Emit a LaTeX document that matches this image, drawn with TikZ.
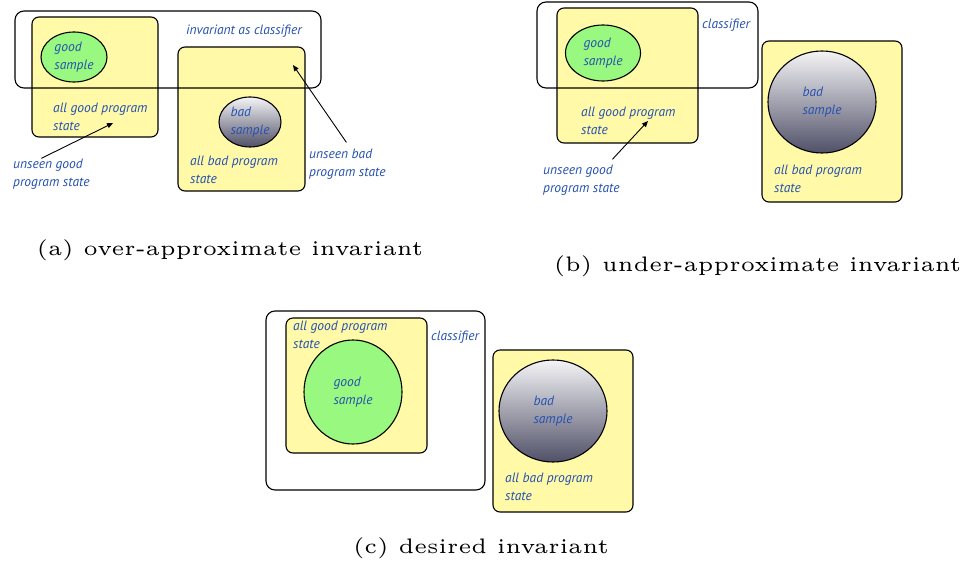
\documentclass[tikz,border=0pt]{standalone}
\usepackage{fontspec}
\newfontfamily\labfont{PT Sans}
\newfontfamily\capfont{lmroman5-regular.otf}
\usetikzlibrary{shapes.geometric,arrows.meta}
\definecolor{ylw}{RGB}{255,249,168}
\definecolor{grn}{RGB}{152,248,128}
\definecolor{lbl}{RGB}{36,80,176}
\definecolor{gtop}{RGB}{244,244,246}
\definecolor{gbot}{RGB}{80,80,104}
\tikzset{
  labtext/.style={font=\labfont\itshape\fontsize{13.5}{18}\selectfont, text=lbl, align=left},
  lab/.style={labtext, inner sep=0pt},
  statebox/.style={draw=black, line width=1.1pt, fill=ylw, rounded corners=7pt, inner sep=0pt},
  clsbox/.style={draw=black, line width=1.1pt, rounded corners=9pt, inner sep=0pt},
  goodell/.style={ellipse, draw=black, line width=1.1pt, fill=grn, inner sep=0pt, labtext},
  badell/.style={ellipse, draw=black, line width=1.1pt, top color=gtop, bottom color=gbot, inner sep=0pt, labtext},
  ptr/.style={-{Triangle[length=6pt,width=5pt]}, line width=0.9pt},
  captxt/.style={font=\capfont\fontsize{21}{25}\selectfont, anchor=base, inner sep=0pt}
}
\begin{document}
\begin{tikzpicture}[x=1pt,y=-1pt]
\useasboundingbox (0,0) rectangle (964,583);
% ---------- (a)
\node[statebox, minimum width=126pt, minimum height=120pt] (agood) at (95,77) {};
\node[statebox, minimum width=127pt, minimum height=144pt] (abad) at (241.5,119) {};
\node[goodell, minimum width=66pt, minimum height=50pt] (ags) at (74,57) {good\\sample};
\node[badell, minimum width=62pt, minimum height=50pt] (abs) at (250,122) {bad\\sample};
\node[clsbox, minimum width=306pt, minimum height=77pt] (acls) at (168,49.5) {};
\node[lab, anchor=base west] (acl) at (186,35) {invariant as classifier};
\node[lab, anchor=base west] (agt) at (53,131) {all good program\\state};
\node[lab, anchor=base west] (abt) at (190,183) {all bad program\\state};
\node[lab, anchor=base west] (aug) at (13,186) {unseen good\\program state};
\node[lab, anchor=base west] (aub) at (309,176) {unseen bad\\program state};
\coordinate (aug-tip) at (113,123);
\coordinate (aub-tip) at (293,65);
\draw[ptr] ([xshift=-10pt,yshift=0pt]aug.north) -- (aug-tip);
\draw[ptr] ([xshift=-1pt,yshift=6pt]aub.north) -- (aub-tip);
\node[captxt] (capa) at (230,255) {(a) over-approximate invariant};
% ---------- (b)
\node[statebox, minimum width=141pt, minimum height=135pt] (bgood) at (627.5,75.5) {};
\node[statebox, minimum width=140pt, minimum height=161pt] (bbad) at (832,121.5) {};
\node[goodell, minimum width=75pt, minimum height=56pt] (bgs) at (603,53) {good\\sample};
\node[badell, minimum width=108pt, minimum height=102pt] (bbs) at (822,102) {bad\\sample};
\node[clsbox, minimum width=221pt, minimum height=86pt] (bcls) at (647.5,45) {};
\node[lab, anchor=base west] (bcl) at (702,29) {classifier};
\node[lab, anchor=base west] (bgt) at (581,135) {all good program\\state};
\node[lab, anchor=base west] (bbt) at (774,193) {all bad program\\state};
\node[lab, anchor=base west] (bug) at (543,193) {unseen good\\program state};
\coordinate (bug-tip) at (648,121);
\draw[ptr] ([xshift=31pt,yshift=6pt]bug.north) -- (bug-tip);
\node[captxt] (capb) at (757.5,271) {(b) under-approximate invariant};
% ---------- (c)
\node[clsbox, minimum width=219pt, minimum height=179pt] (ccls) at (375.5,400.5) {};
\node[statebox, minimum width=141pt, minimum height=135pt] (cgood) at (356.5,385.5) {};
\node[statebox, minimum width=140pt, minimum height=162pt] (cbad) at (563,431) {};
\node[goodell, minimum width=98pt, minimum height=104pt] (cgs) at (353,392) {good\\sample};
\node[badell, minimum width=108pt, minimum height=102pt] (cbs) at (553,411) {bad\\sample};
\node[lab, anchor=base west] (ccl) at (431,340) {classifier};
\node[lab, anchor=base west] (cgt) at (293,348) {all good program\\state};
\node[lab, anchor=base west] (cbt) at (505,500) {all bad program\\state};
\node[captxt] (capc) at (481,553) {(c) desired invariant};
\end{tikzpicture}
\end{document}
